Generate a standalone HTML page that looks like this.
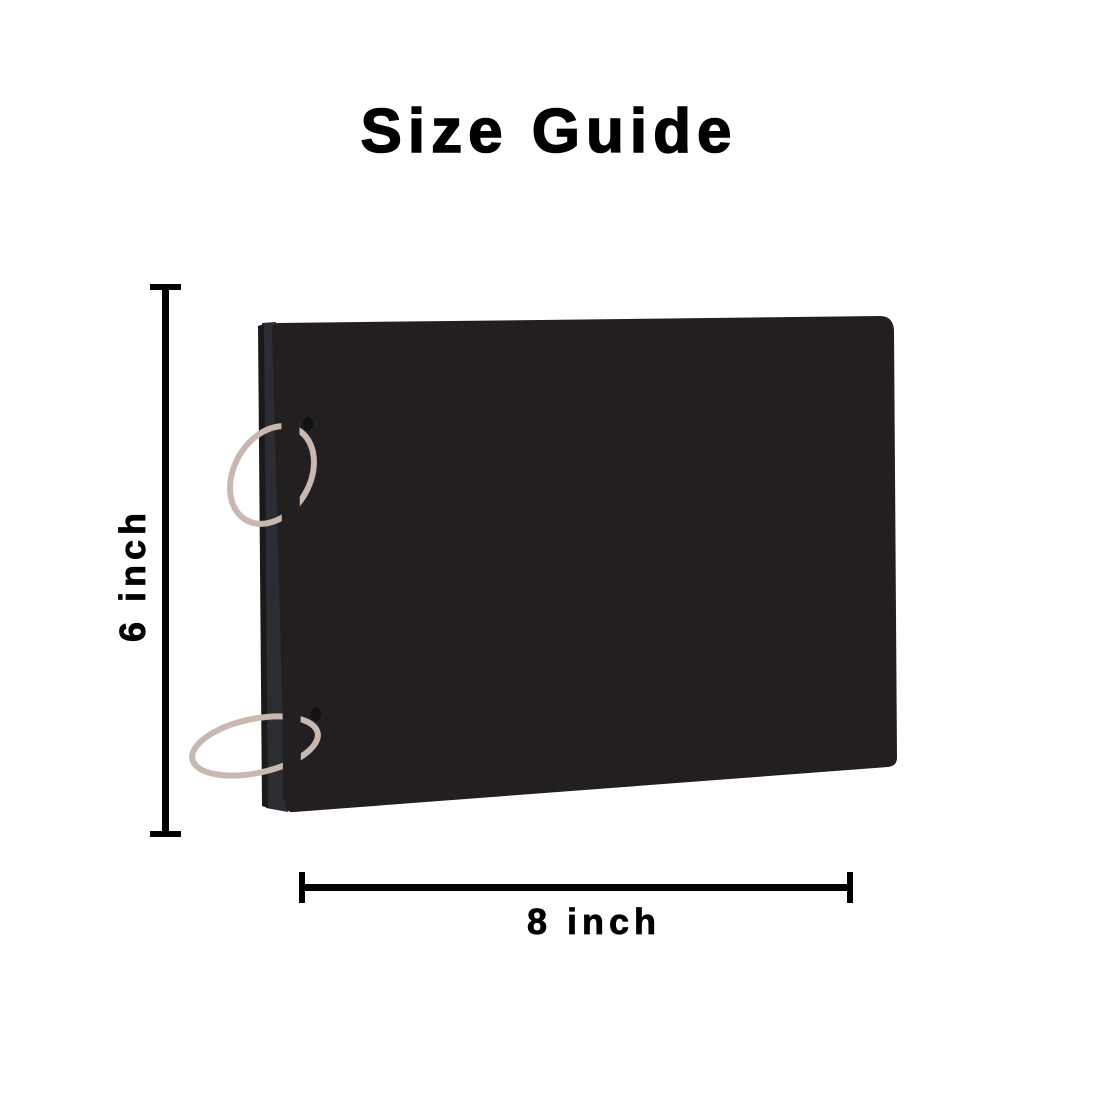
<!DOCTYPE html>
<html><head><meta charset="utf-8"><style>
html,body{margin:0;padding:0;background:#fff;}
svg{display:block;}
text{font-family:"Liberation Sans","DejaVu Sans",sans-serif;font-weight:bold;fill:#000;}
</style></head><body>
<svg width="1100" height="1100" viewBox="0 0 1100 1100">
  <rect width="1100" height="1100" fill="#fff"/>
  <text x="549" y="152" font-size="62" text-anchor="middle" letter-spacing="6" stroke="#000" stroke-width="1.5">Size Guide</text>

  <g>
    <rect x="162" y="287" width="7" height="547" fill="#000"/>
    <rect x="150" y="284" width="31" height="6" fill="#000"/>
    <rect x="150" y="831" width="31" height="6" fill="#000"/>
  </g>
  <text transform="translate(145,575) rotate(-90)" font-size="36" text-anchor="middle" letter-spacing="5" stroke="#000" stroke-width="0.8">6 inch</text>

  <g>
    <rect x="302" y="884" width="548" height="7" fill="#000"/>
    <rect x="299" y="872" width="6" height="31" fill="#000"/>
    <rect x="847" y="872" width="6" height="31" fill="#000"/>
  </g>
  <text x="594" y="934" font-size="36" text-anchor="middle" letter-spacing="5" stroke="#000" stroke-width="0.8">8 inch</text>

  <g>
    <path d="M262,323 L276,322 L288,812 L266,808 Z" fill="#2b2d33"/>
    <path d="M258,326 L264,324 L268,808 L262,806 Z" fill="#1a1a1a"/>
    <path d="M278,323 L880,316 Q893,316 894,330 L897,758 Q897,766 888,767 L294,812 Q286,813 285,804 L272,330 Q272,323 278,323 Z" fill="#231f20"/>
    <ellipse cx="308" cy="424" rx="5" ry="7" fill="#111"/>
    <ellipse cx="316" cy="714" rx="5" ry="7" fill="#111"/>
    <ellipse cx="272" cy="475" rx="38" ry="52" transform="rotate(30 272 475)" fill="none" stroke="#c9b8b0" stroke-width="6"/>
    <ellipse cx="255" cy="746" rx="64" ry="27" transform="rotate(-12 255 746)" fill="none" stroke="#c9b8b0" stroke-width="6"/>
    <path d="M290,330 L292,800" stroke="#231f20" stroke-width="18"/>
  </g>
</svg>
</body></html>
